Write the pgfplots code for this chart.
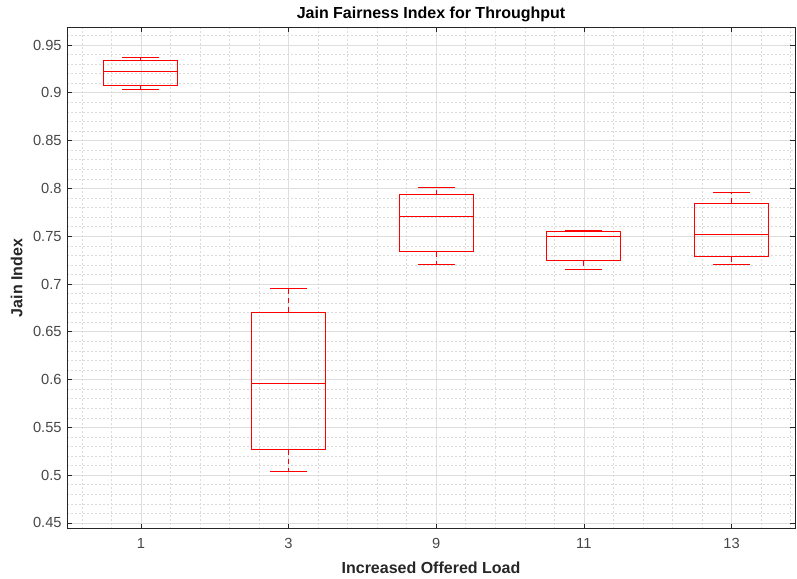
\documentclass[border=0pt]{standalone}
\usepackage{pgfplots}
\pgfplotsset{compat=1.18}
\usepgfplotslibrary{statistics}
\usepackage{fontspec}
\setmainfont{Liberation Sans}
\definecolor{axgray}{RGB}{38,38,38}
\definecolor{mred}{RGB}{255,0,0}
\begin{document}
\begin{tikzpicture}
\begin{axis}[
  scale only axis,
  width=546pt, height=376pt,
  xmin=0.5, xmax=5.43, ymin=0.444, ymax=0.9685,
  xtick={1,2,3,4,5}, xticklabels={1,3,9,11,13},
  ytick={0.45,0.5,0.55,0.6,0.65,0.7,0.75,0.8,0.85,0.9,0.95},
  yticklabels={0.45,0.5,0.55,0.6,0.65,0.7,0.75,0.8,0.85,0.9,0.95},
  minor xtick={0.6,0.8,1.2,1.4,1.6,1.8,2.2,2.4,2.6,2.8,3.2,3.4,3.6,3.8,4.2,4.4,4.6,4.8,5.2,5.4},
  minor ytick={0.46,0.47,0.48,0.49,0.51,0.52,0.53,0.54,0.56,0.57,0.58,0.59,0.61,0.62,0.63,0.64,0.66,0.67,0.68,0.69,0.71,0.72,0.73,0.74,0.76,0.77,0.78,0.79,0.81,0.82,0.83,0.84,0.86,0.87,0.88,0.89,0.91,0.92,0.93,0.94,0.96},
  grid=both,
  major grid style={color=black!13, line width=0.5pt},
  minor grid style={color=black!14, line width=0.35pt, dash pattern=on 1.5pt off 1.5pt},
  axis line style={color=axgray, line width=0.6pt},
  tick style={color=axgray, line width=0.5pt},
  major tick length=3.8pt, minor tick length=0pt,
  tick align=inside,
  tick label style={font=\fontsize{11}{13}\selectfont, color=axgray!85},
  xticklabel style={yshift=-3.5pt},
  yticklabel style={xshift=-0.5pt},
  title={Jain Fairness Index for Throughput},
  title style={font=\fontsize{12}{14}\selectfont\bfseries, color=black, yshift=-5.5pt},
  xlabel={Increased Offered Load},
  ylabel={Jain Index},
  label style={font=\fontsize{12}{14}\selectfont\bfseries, color=axgray},
  xlabel style={yshift=-3pt},
  ylabel style={yshift=1pt},
  boxplot/draw direction=y,
  boxplot/box extend=0.5,
  boxplot/whisker extend=0.25,
  boxplot/every box/.style={draw=mred, line width=0.75pt},
  boxplot/draw/median/.code={
    \draw[color=mred, line width=0.75pt] (boxplot box cs:\pgfplotsboxplotvalue{median},0) -- (boxplot box cs:\pgfplotsboxplotvalue{median},1);
  },
  boxplot/draw/lower whisker/.code={
    \draw[color=mred, line width=0.75pt, dash pattern=on 4pt off 3pt] (boxplot cs:\pgfplotsboxplotvalue{lower quartile}) -- (boxplot cs:\pgfplotsboxplotvalue{lower whisker});
    \draw[color=mred, line width=0.75pt] (boxplot whisker cs:\pgfplotsboxplotvalue{lower whisker},0) -- (boxplot whisker cs:\pgfplotsboxplotvalue{lower whisker},1);
  },
  boxplot/draw/upper whisker/.code={
    \draw[color=mred, line width=0.75pt, dash pattern=on 4pt off 3pt] (boxplot cs:\pgfplotsboxplotvalue{upper quartile}) -- (boxplot cs:\pgfplotsboxplotvalue{upper whisker});
    \draw[color=mred, line width=0.75pt] (boxplot whisker cs:\pgfplotsboxplotvalue{upper whisker},0) -- (boxplot whisker cs:\pgfplotsboxplotvalue{upper whisker},1);
  },
]
\addplot[color=mred, line width=0.75pt, boxplot prepared={draw position=1, lower whisker=0.9036, lower quartile=0.9078, median=0.9225, upper quartile=0.9336, upper whisker=0.9374}] coordinates {};
\addplot[color=mred, line width=0.75pt, boxplot prepared={draw position=2, lower whisker=0.5039, lower quartile=0.5269, median=0.5964, upper quartile=0.6704, upper whisker=0.6948}] coordinates {};
\addplot[color=mred, line width=0.75pt, boxplot prepared={draw position=3, lower whisker=0.7207, lower quartile=0.7335, median=0.7709, upper quartile=0.7932, upper whisker=0.8006}] coordinates {};
\addplot[color=mred, line width=0.75pt, boxplot prepared={draw position=4, lower whisker=0.7154, lower quartile=0.7245, median=0.7500, upper quartile=0.7545, upper whisker=0.7563}] coordinates {};
\addplot[color=mred, line width=0.75pt, boxplot prepared={draw position=5, lower whisker=0.7207, lower quartile=0.7287, median=0.7518, upper quartile=0.7842, upper whisker=0.7953}] coordinates {};
\end{axis}
\pgfresetboundingbox
\path[use as bounding box] ([xshift=-50.25pt, yshift=-37.7pt]current axis.south west) rectangle ([xshift=1.5pt, yshift=20.5pt]current axis.north east);
\end{tikzpicture}
\end{document}
